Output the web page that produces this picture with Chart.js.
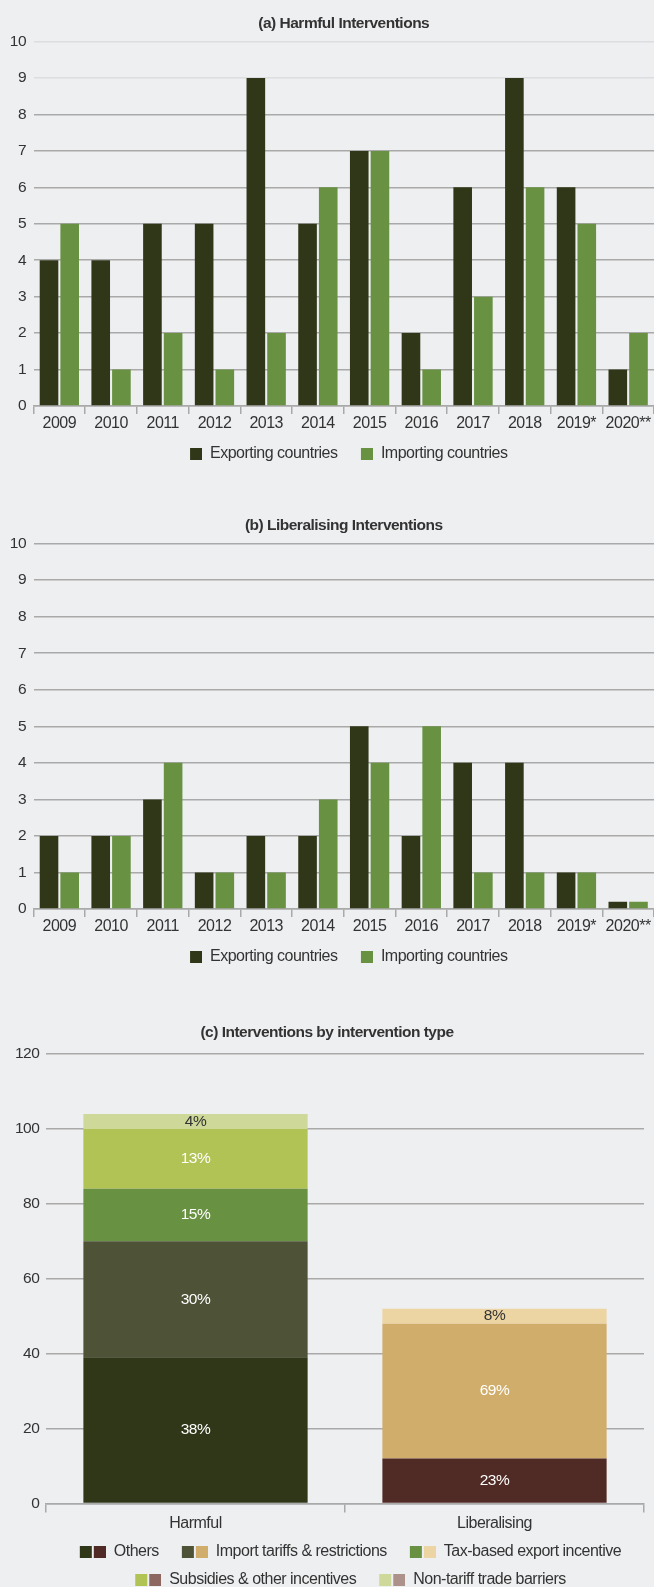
<!DOCTYPE html>
<html>
<head>
<meta charset="utf-8">
<script src="https://cdn.jsdelivr.net/npm/chart.js@4.4.0/dist/chart.umd.min.js"></script>
<style>
  html, body { margin: 0; padding: 0; background: #eeeff1; overflow: hidden; width: 654px; height: 1587px; }
  .box { position: absolute; left: 0; width: 654px; }
</style>
</head>
<body>
<div class="box" style="top:0;height:472px"><canvas id="harmfulChart"></canvas></div>
<div class="box" style="top:502px;height:473px"><canvas id="liberalChart"></canvas></div>
<div class="box" style="top:1000px;height:598px"><canvas id="typeChart"></canvas></div>
<script>
// ---- data ----
const years = ['2009', '2010', '2011', '2012', '2013', '2014', '2015', '2016', '2017', '2018', '2019*', '2020**'];
const harmfulExporting = [4, 4, 5, 5, 9, 5, 7, 2, 6, 9, 6, 1];
const harmfulImporting = [5, 1, 2, 1, 2, 6, 7, 1, 3, 6, 5, 2];
const liberalExporting = [2, 2, 3, 1, 2, 2, 5, 2, 4, 4, 1, 0.2];
const liberalImporting = [1, 2, 4, 1, 1, 3, 4, 5, 1, 1, 1, 0.2];

const groups = ['Harmful', 'Liberalising'];
const interventionTypes = ['Others', 'Import tariffs & restrictions', 'Tax-based export incentive',
  'Subsidies & other incentives', 'Non-tariff trade barriers'];
const harmfulByType = [39, 31, 14, 16, 4];
const liberalByType = [12, 36, 4, 0, 0];
const harmfulShares = ['38%', '30%', '15%', '13%', '4%'];
const liberalShares = ['23%', '69%', '8%', '', ''];

// ---- styles ----
const FONT = '"Liberation Sans", Arial, sans-serif';
const TEXT = '#333333';
const GRID = '#a9a9a9';
const EXPORT_COLOR = '#303718';
const IMPORT_COLOR = '#689142';
const harmfulColors = ['#303718', '#4e5236', '#689142', '#b2c355', '#ced899'];
const liberalColors = ['#502a24', '#d0ad6a', '#edd4a3', '#8c6860', '#ad928c'];
const darkShare = [[false, false], [false, false], [false, true], [false, false], [true, false]];

Chart.defaults.font.family = FONT;
Chart.defaults.color = TEXT;

// the original uses a narrow face; tighten the spacing a little instead
Chart.register({
    id: 'narrowText',
    beforeLayout(chart) { chart.ctx.letterSpacing = '-0.5px'; },
    beforeDraw(chart) { chart.ctx.letterSpacing = '-0.5px'; }
});

// legend swatch: 12px squares, with an empty lead on the left to space the items
function swatch(colors, lead) {
    const c = document.createElement('canvas');
    c.width = lead + colors.length * 14 - 2;
    c.height = 12;
    const g = c.getContext('2d');
    colors.forEach((col, k) => {
        g.fillStyle = col;
        g.fillRect(lead + k * 14, 0, 12, 12);
    });
    return c;
}

function swatchLegend(colorsOf, lead) {
    return chart => chart.data.datasets.map((ds, i) => ({
        text: ds.label,
        pointStyle: swatch(colorsOf(ds), lead),
        fillStyle: TEXT,
        strokeStyle: 'transparent',
        lineWidth: 0,
        hidden: false,
        datasetIndex: i,
        fontColor: TEXT
    }));
}

function yearChart(id, titleText, exporting, importing, fadeTop) {
    const canvas = document.getElementById(id);
    return new Chart(canvas, {
        type: 'bar',
        data: {
            labels: years,
            datasets: [
                { label: 'Exporting countries', data: exporting, backgroundColor: EXPORT_COLOR,
                  categoryPercentage: 0.8, barPercentage: 0.9 },
                { label: 'Importing countries', data: importing, backgroundColor: IMPORT_COLOR,
                  categoryPercentage: 0.8, barPercentage: 0.9 }
            ]
        },
        options: {
            responsive: true,
            maintainAspectRatio: false,
            animation: false,
            layout: { padding: 0 },
            plugins: {
                title: {
                    display: true, text: titleText, fullSize: false, color: TEXT,
                    font: { size: 15.5, weight: 'bold' },
                    padding: { top: 14.7, bottom: 8.3 }
                },
                legend: {
                    position: 'bottom', fullSize: false,
                    labels: {
                        usePointStyle: true, pointStyleWidth: 22, padding: 13.4, color: TEXT, font: { size: 16 },
                        generateLabels: swatchLegend(ds => [ds.backgroundColor], 10)
                    }
                },
                tooltip: { enabled: false }
            },
            scales: {
                x: {
                    grid: { drawOnChartArea: false, drawTicks: true, tickLength: 8, color: GRID, lineWidth: 1.5 },
                    border: { display: true, color: GRID, width: 1.5 },
                    ticks: { padding: 1, font: { size: 16, lineHeight: 1.1 }, color: TEXT, autoSkip: false, maxRotation: 0 },
                    afterFit: s => { s.height = 26.6; }
                },
                y: {
                    min: 0, max: 10,
                    ticks: { stepSize: 1, padding: 7.5, font: { size: 15.5 }, color: TEXT },
                    grid: {
                        drawTicks: false, lineWidth: 1.5,
                        color: c => (fadeTop && c.tick && c.tick.value >= 9) ? '#dcdde0' : GRID
                    },
                    border: { display: false },
                    afterFit: s => { s.width = 33.5; }
                }
            }
        }
    });
}

yearChart('harmfulChart', '(a) Harmful Interventions', harmfulExporting, harmfulImporting, true);
yearChart('liberalChart', '(b) Liberalising Interventions', liberalExporting, liberalImporting, false);

const shareLabels = {
    id: 'shareLabels',
    afterDatasetsDraw(chart) {
        const { ctx } = chart;
        ctx.save();
        ctx.font = '15.5px ' + FONT;
        ctx.textAlign = 'center';
        ctx.textBaseline = 'middle';
        chart.data.datasets.forEach((ds, i) => {
            chart.getDatasetMeta(i).data.forEach((bar, j) => {
                const txt = ds.shares[j];
                if (!txt) return;
                ctx.fillStyle = darkShare[i][j] ? TEXT : '#ffffff';
                ctx.fillText(txt, bar.x, (bar.y + bar.base) / 2);
            });
        });
        ctx.restore();
    }
};

new Chart(document.getElementById('typeChart'), {
    type: 'bar',
    data: {
        labels: groups,
        datasets: interventionTypes.map((name, i) => ({
            label: name,
            data: [harmfulByType[i], liberalByType[i]],
            shares: [harmfulShares[i], liberalShares[i]],
            backgroundColor: [harmfulColors[i], liberalColors[i]],
            stack: 'all',
            categoryPercentage: 0.75,
            barPercentage: 1
        }))
    },
    options: {
        responsive: true,
        maintainAspectRatio: false,
        animation: false,
        layout: { padding: 0 },
        plugins: {
            title: {
                display: true, text: '(c) Interventions by intervention type', color: TEXT,
                font: { size: 15.5, weight: 'bold' },
                padding: { top: 23.7, bottom: 11.7 }
            },
            legend: {
                position: 'bottom', fullSize: false,
                labels: {
                    usePointStyle: true, pointStyleWidth: 37, padding: 12, color: TEXT, font: { size: 16 },
                    generateLabels: swatchLegend(ds => ds.backgroundColor, 11)
                }
            },
            tooltip: { enabled: false }
        },
        scales: {
            x: {
                stacked: true,
                grid: { drawOnChartArea: false, drawTicks: true, tickLength: 9, color: GRID, lineWidth: 1.5 },
                border: { display: true, color: GRID, width: 1.5 },
                ticks: { padding: 2, font: { size: 16, lineHeight: 1.1 }, color: TEXT },
                afterFit: s => { s.height = 28.6; }
            },
            y: {
                stacked: true,
                min: 0, max: 120,
                ticks: { stepSize: 20, padding: 6.7, font: { size: 15.5 }, color: TEXT },
                grid: { drawTicks: false, color: GRID, lineWidth: 1.5 },
                border: { display: false },
                afterFit: s => { s.width = 46; }
            },
            yRight: {
                position: 'right',
                grid: { drawOnChartArea: false, drawTicks: false },
                ticks: { display: false },
                border: { display: false },
                afterFit: s => { s.width = 10; }
            }
        }
    },
    plugins: [shareLabels]
});
</script>
</body>
</html>
